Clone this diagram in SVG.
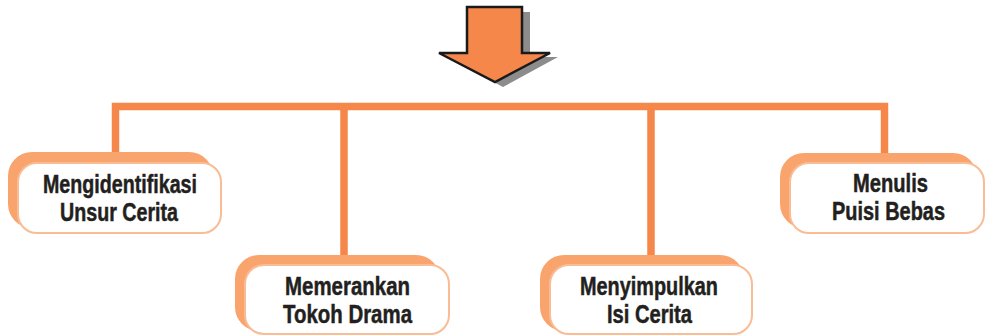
<svg xmlns="http://www.w3.org/2000/svg" width="986" height="335" viewBox="0 0 986 335">
<style>
.back{fill:#F9A36D;}
.face{fill:#FFFFFF;stroke:#F9BC94;stroke-width:2;}
.lbl{font-family:"Liberation Sans",Arial,sans-serif;font-weight:bold;font-size:26px;fill:#231F20;stroke:#231F20;stroke-width:0.5;text-anchor:middle;}
.conn{fill:none;stroke:#F5874B;stroke-width:7.5;stroke-linejoin:miter;}
</style>
<rect width="986" height="335" fill="#FFFFFF"/>
<g id="arrow">
<polygon points="475,12 530,12 530,57 558,57 503,87 447,57 475,57" fill="#8C8C8C"/>
<polygon points="467,7 522,7 522,53 550,53 495,82 439,53 467,53" fill="#F5874B" stroke="#1A1A1A" stroke-width="2.5" stroke-linejoin="miter"/>
</g>
<g id="connectors">
<path class="conn" d="M115.5,154 V106.5 H884.5 V154"/>
<path class="conn" d="M344,106.5 V257"/>
<path class="conn" d="M651,106.5 V257"/>
</g>
<g id="node1">
<rect class="back" x="8" y="152" width="205" height="76" rx="24"/>
<rect class="face" x="18" y="163" width="203" height="70" rx="19"/>
<text class="lbl" x="120" y="193" textLength="154" lengthAdjust="spacingAndGlyphs">Mengidentifikasi</text>
<text class="lbl" x="119" y="221" textLength="118" lengthAdjust="spacingAndGlyphs">Unsur Cerita</text>
</g>
<g id="node2">
<rect class="back" x="235" y="255" width="205" height="76" rx="24"/>
<rect class="face" x="245" y="265" width="204" height="69" rx="19"/>
<text class="lbl" x="347.5" y="295" textLength="125" lengthAdjust="spacingAndGlyphs">Memerankan</text>
<text class="lbl" x="347.5" y="323" textLength="129" lengthAdjust="spacingAndGlyphs">Tokoh Drama</text>
</g>
<g id="node3">
<rect class="back" x="540" y="255" width="204" height="76" rx="24"/>
<rect class="face" x="550" y="265" width="202" height="69" rx="19"/>
<text class="lbl" x="649" y="295" textLength="138" lengthAdjust="spacingAndGlyphs">Menyimpulkan</text>
<text class="lbl" x="649.5" y="323" textLength="85" lengthAdjust="spacingAndGlyphs">Isi Cerita</text>
</g>
<g id="node4">
<rect class="back" x="780" y="153" width="197" height="75" rx="24"/>
<rect class="face" x="790" y="163" width="194" height="70" rx="19"/>
<text class="lbl" x="890.5" y="192" textLength="75" lengthAdjust="spacingAndGlyphs">Menulis</text>
<text class="lbl" x="888.5" y="220" textLength="113" lengthAdjust="spacingAndGlyphs">Puisi Bebas</text>
</g>
</svg>
